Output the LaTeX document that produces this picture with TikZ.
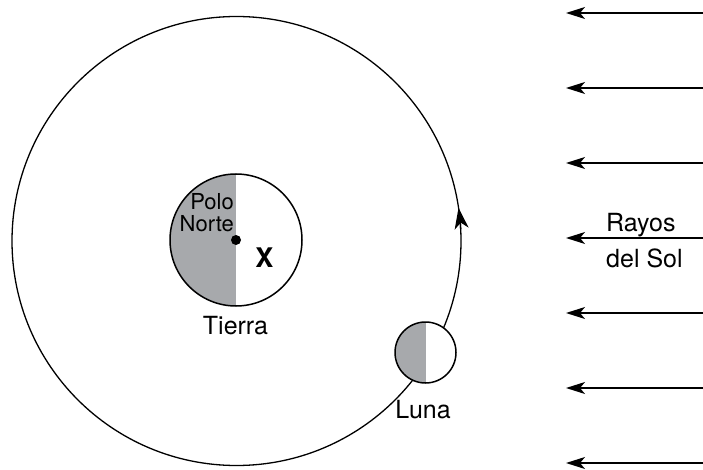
\documentclass[tikz,border=0pt]{standalone}
\usepackage{fontspec}
\setmainfont{TeX Gyre Heros}
\usetikzlibrary{arrows.meta}
\definecolor{nightgray}{RGB}{167,169,172}

\begin{document}
\begin{tikzpicture}[x=1pt, y=1pt,
    body/.style={circle, draw, line width=1.5pt, fill=white, inner sep=0pt, outer sep=0pt,
      path picture={\fill[nightgray] (path picture bounding box.south west)
        rectangle (path picture bounding box.north);}},
    ray/.style={line width=1.4pt, -{Stealth[length=19pt, width=12pt, inset=5pt]}},
    lbl/.style={font=\fontsize{25}{29}\selectfont, anchor=base, inner sep=0pt}]
  \useasboundingbox (0,0) rectangle (703,469);
  % orbit of the moon, run counterclockwise
  \node[circle, draw, line width=1.3pt, minimum size=449pt, inner sep=0pt, outer sep=0pt]
    (orbit) at (236.5,228) {};
  \draw[line width=1.3pt, -{Stealth[length=21pt, width=14pt, inset=6pt]}]
    (orbit.3) arc[start angle=3, end angle=8.5, radius=224.5pt];
  % earth and moon, night side shaded
  \node[body, minimum size=132pt] (earth) at (236,229) {};
  \fill (earth.center) circle[radius=5pt];
  \node[body, minimum size=61pt] (moon) at (425.5,116.5) {};
  % labels
  \node[font=\fontsize{22}{24}\selectfont, anchor=base east, inner sep=0pt] (polo) at (234,259) {Polo};
  \node[font=\fontsize{22}{24}\selectfont, anchor=base east, inner sep=0pt] (norte) at (234,237) {Norte};
  \node[lbl, font=\fontsize{27}{31}\selectfont\bfseries] (mark) at (264.5,202) {X};
  \node[lbl] (tierra) at (235.5,135) {Tierra};
  \node[lbl] (luna) at (423,51) {Luna};
  % parallel rays coming in from the right
  \foreach \k/\y in {1/456, 2/381, 3/306, 4/231, 5/156, 6/81, 7/6} {
    \coordinate (sun\k) at (703,\y);
    \coordinate (tip\k) at (566,\y);
    \draw[ray] (sun\k) -- (tip\k);
  }
  \node[lbl, anchor=base west] (rayos) at (606,237) {Rayos};
  \node[lbl, anchor=base west] (delsol) at (606,202) {del Sol};
\end{tikzpicture}
\end{document}
